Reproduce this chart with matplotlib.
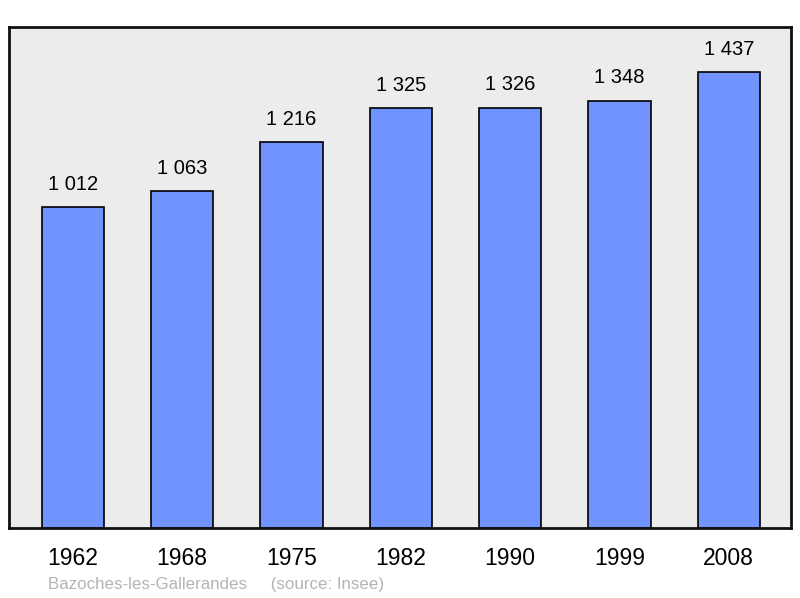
import matplotlib
matplotlib.use('Agg')
import matplotlib.pyplot as plt

years = ['1962', '1968', '1975', '1982', '1990', '1999', '2008']
population = [1012, 1063, 1216, 1325, 1326, 1348, 1437]
labels = ['1 012', '1 063', '1 216', '1 325', '1 326', '1 348', '1 437']

plt.rcParams['font.family'] = ['Liberation Sans', 'DejaVu Sans']

fig = plt.figure(figsize=(8, 5.98), dpi=100)
ax = fig.add_axes([9 / 800, 1 - 528 / 598, 782 / 800, 501 / 598])
ax.set_facecolor('#ececec')

x = range(len(years))
ax.bar(x, population, width=0.57, color='#7093ff', edgecolor='black', linewidth=1.2)
for i, v in enumerate(population):
    ax.text(i, v + 42, labels[i], ha='center', va='bottom', fontsize=14.5)

ax.set_xlim(-0.585, 6.57)
ax.set_ylim(0, 1580)
ax.set_yticks([])
ax.set_xticks(list(x))
ax.set_xticklabels(years, fontsize=16.5)
ax.tick_params(axis='x', length=0, pad=14)
for s in ax.spines.values():
    s.set_linewidth(2)
    s.set_color('#111111')

fig.text(48 / 800, 1 - 584 / 598, 'Bazoches-les-Gallerandes     (source: Insee)',
         color='#b4b4b4', fontsize=12.2, va='center', ha='left')

plt.savefig('out.png')
plt.close()
